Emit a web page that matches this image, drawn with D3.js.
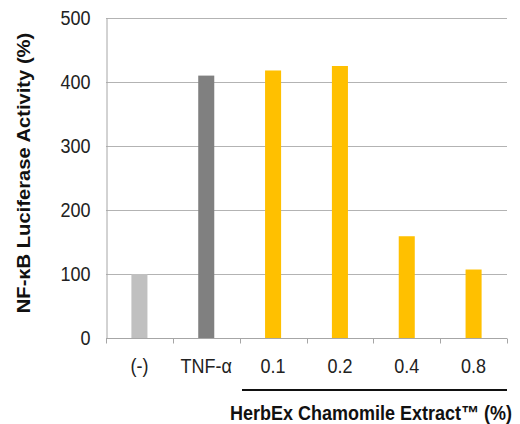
<!DOCTYPE html>
<html lang="en">
<head>
<meta charset="utf-8">
<title>NF-kB Luciferase Activity</title>
<script src="https://d3js.org/d3.v7.min.js"></script>
<style>
  body { margin: 0; background: #fff; }
  svg text { font-family: "Liberation Sans", Arial, sans-serif; }
</style>
</head>
<body>
<script>
// chart data
var categories = ["(-)", "TNF-\u03b1", "0.1", "0.2", "0.4", "0.8"];
var values = [100, 410, 418, 425, 159, 107];
var barColors = ["#c0c0c0", "#808080", "#ffc000", "#ffc000", "#ffc000", "#ffc000"];
var yTicks = [0, 100, 200, 300, 400, 500];

var width = 520, height = 424;
var margin = {top: 18, right: 13, bottom: 86, left: 106};
var stretch = 1.12; // the source picture is a bit taller than wide

var svg = d3.select("body").append("svg")
    .attr("width", width)
    .attr("height", height);

var x = d3.scaleBand()
    .domain(categories)
    .range([margin.left, width - margin.right])
    .paddingInner(0.76)
    .paddingOuter(0.38);

var y = d3.scaleLinear()
    .domain([0, 500])
    .range([height - margin.bottom, margin.top]);

// gridlines
svg.append("g")
    .selectAll("line")
    .data(yTicks.slice(1))
    .enter().append("line")
    .attr("x1", margin.left)
    .attr("x2", width - margin.right)
    .attr("y1", function(d) { return Math.round(y(d)) + 0.5; })
    .attr("y2", function(d) { return Math.round(y(d)) + 0.5; })
    .attr("stroke", "#b3b3b3")
    .attr("stroke-width", 1);

// bars
svg.append("g")
    .selectAll("rect")
    .data(values)
    .enter().append("rect")
    .attr("x", function(d, i) { return x(categories[i]); })
    .attr("y", function(d) { return y(d); })
    .attr("width", x.bandwidth())
    .attr("height", function(d) { return y(0) - y(d); })
    .attr("fill", function(d, i) { return barColors[i]; });

// y axis
var yAxis = svg.append("g")
    .attr("transform", "translate(" + (margin.left + 0.5) + ",0)")
    .call(d3.axisLeft(y).tickValues(yTicks).tickSize(0).tickPadding(16));
yAxis.select(".domain").attr("stroke", "#a6a6a6");
yAxis.selectAll("text")
    .attr("font-size", 18)
    .attr("fill", "#222")
    .attr("transform", "scale(1," + stretch + ")");

// x axis, ticks between categories
var edge = d3.scaleLinear().domain([0, categories.length]).range(x.range());
var xg = svg.append("g")
    .attr("transform", "translate(0," + (Math.round(y(0)) + 0.5) + ")");
xg.append("line")
    .attr("x1", margin.left)
    .attr("x2", width - margin.right)
    .attr("stroke", "#a6a6a6");
xg.selectAll(".tick")
    .data(d3.range(categories.length + 1))
    .enter().append("line")
    .attr("x1", function(d) { return Math.round(edge(d)) + 0.5; })
    .attr("x2", function(d) { return Math.round(edge(d)) + 0.5; })
    .attr("y1", 0)
    .attr("y2", 5)
    .attr("stroke", "#a6a6a6");
xg.selectAll(".lbl")
    .data(categories)
    .enter().append("text")
    .attr("transform", function(d) {
        return "translate(" + (x(d) + x.bandwidth() / 2) + ",27) scale(1," + stretch + ")";
    })
    .attr("dy", "0.35em")
    .attr("text-anchor", "middle")
    .attr("font-size", 18)
    .attr("fill", "#222")
    .text(function(d) { return d; });

// bracket line under extract doses
svg.append("line")
    .attr("x1", 242)
    .attr("x2", width - margin.right)
    .attr("y1", 390)
    .attr("y2", 390)
    .attr("stroke", "#111")
    .attr("stroke-width", 2);

// axis titles
svg.append("text")
    .attr("transform", "translate(371,413) scale(1," + stretch + ")")
    .attr("dy", "0.35em")
    .attr("text-anchor", "middle")
    .attr("font-size", 18)
    .attr("font-weight", "bold")
    .attr("fill", "#111")
    .text("HerbEx Chamomile Extract\u2122 (%)");

svg.append("text")
    .attr("transform", "translate(24,173) rotate(-90) scale(" + stretch + ",1)")
    .attr("dy", "0.35em")
    .attr("text-anchor", "middle")
    .attr("font-size", 18)
    .attr("font-weight", "bold")
    .attr("fill", "#111")
    .text("NF-\u03baB Luciferase Activity (%)");
</script>
</body>
</html>
